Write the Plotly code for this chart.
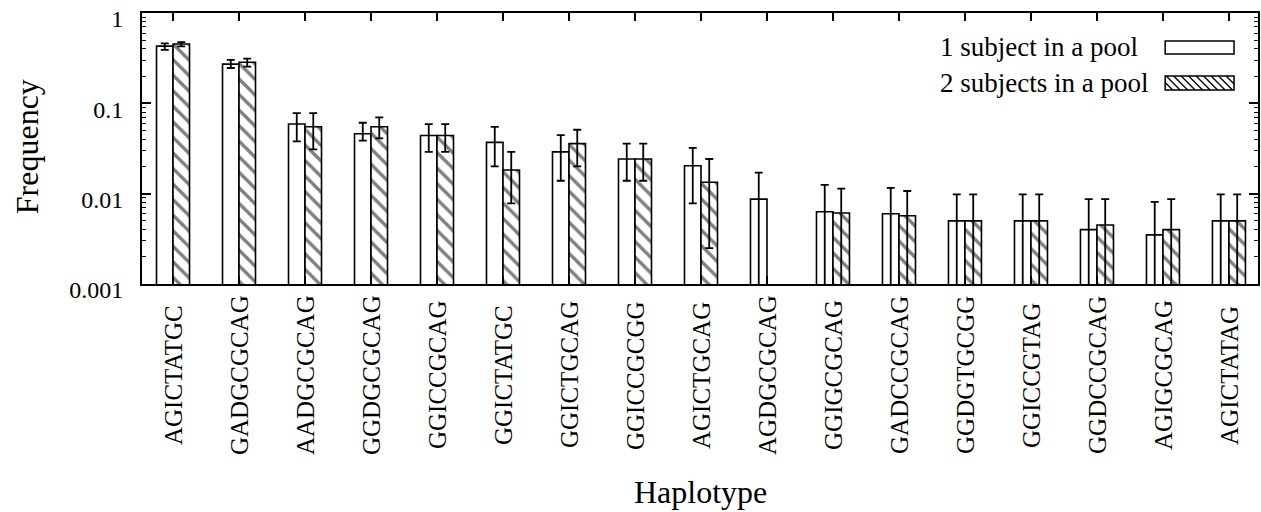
import plotly.graph_objects as go

# ---------------- data ----------------
haplotypes = ["AGICTATGC", "GADGCGCAG", "AADGCGCAG", "GGDGCGCAG", "GGICCGCAG",
              "GGICTATGC", "GGICTGCAG", "GGICCGCGG", "AGICTGCAG", "AGDGCGCAG",
              "GGIGCGCAG", "GADCCGCAG", "GGDGTGCGG", "GGICCGTAG", "GGDCCGCAG",
              "AGIGCGCAG", "AGICTATAG"]

one_freq  = [0.43, 0.272, 0.059, 0.046, 0.044, 0.037, 0.029, 0.0242, 0.0204, 0.0087,
             0.0063, 0.0060, 0.0050, 0.0050, 0.0040, 0.0035, 0.0050]
one_upper = [0.46, 0.302, 0.078, 0.061, 0.059, 0.055, 0.0445, 0.0358, 0.0322, 0.0171,
             0.0125, 0.0116, 0.0098, 0.0098, 0.0087, 0.0081, 0.0098]
one_lower = [0.39, 0.246, 0.038, 0.0386, 0.029, 0.020, 0.0139, 0.0139, 0.0078, 0.0,
             0.0, 0.0, 0.0, 0.0, 0.0, 0.0, 0.0]

two_freq  = [0.454, 0.285, 0.055, 0.055, 0.044, 0.0183, 0.0358, 0.0242, 0.0134, None,
             0.0061, 0.0057, 0.0050, 0.0050, 0.0045, 0.0040, 0.0050]
two_upper = [0.477, 0.312, 0.078, 0.070, 0.059, 0.029, 0.051, 0.0358, 0.0242, None,
             0.0114, 0.0107, 0.0098, 0.0098, 0.0087, 0.0087, 0.0098]
two_lower = [0.428, 0.255, 0.031, 0.041, 0.029, 0.0078, 0.020, 0.0139, 0.0025, None,
             0.0, 0.0, 0.0, 0.0, 0.0, 0.0, 0.0]

series_names = ["1 subject in a pool", "2 subjects in a pool"]
y_tick_vals = [0.001, 0.01, 0.1, 1]
y_tick_text = ["0.001", "0.01", "0.1", "1"]


def err_plus(v, u):
    return [None if a is None else b - a for a, b in zip(v, u)]


def err_minus(v, l):
    return [None if a is None else a - b for a, b in zip(v, l)]


# ---------------- layout geometry ----------------
W, H = 1261, 512
ML, MR, MT, MB = 142, 1, 13, 228
PW, PH = W - ML - MR, H - MT - MB


def px(x):
    return (x - ML) / PW


def py(y):
    return (MT + PH - y) / PH


FONT = "Liberation Serif"

fig = go.Figure()
fig.add_trace(go.Bar(
    x=haplotypes, y=one_freq, name=series_names[0], showlegend=False,
    marker=dict(color="white", line=dict(color="black", width=1.6)),
    error_y=dict(type="data", array=err_plus(one_freq, one_upper),
                 arrayminus=err_minus(one_freq, one_lower),
                 color="black", thickness=1.8, width=4),
))
fig.add_trace(go.Bar(
    x=haplotypes, y=two_freq, name=series_names[1], showlegend=False,
    marker=dict(color="white", line=dict(color="black", width=1.6),
                pattern=dict(shape="\\", fgcolor="black", bgcolor="white",
                             size=11, solidity=0.3)),
    error_y=dict(type="data", array=err_plus(two_freq, two_upper),
                 arrayminus=err_minus(two_freq, two_lower),
                 color="black", thickness=1.8, width=4),
))

minor_vals = [k * 10 ** e for e in (-3, -2, -1) for k in range(2, 10)]

fig.update_layout(
    width=W, height=H,
    margin=dict(l=ML, r=MR, t=MT, b=MB, pad=0),
    paper_bgcolor="white", plot_bgcolor="white",
    barmode="group", bargap=0.5, bargroupgap=0.0,
    font=dict(family=FONT, color="black", size=24),
    xaxis=dict(type="category", range=[-0.47, 16.44], showticklabels=False,
               ticks="inside", ticklen=8, tickwidth=2, tickcolor="black",
               showline=True, linecolor="black", linewidth=2, mirror="ticks",
               showgrid=False, zeroline=False),
    yaxis=dict(type="log", range=[-3.00001, 0.00001],
               tickvals=y_tick_vals, ticktext=y_tick_text,
               ticks="inside", ticklen=9, tickwidth=2, tickcolor="black",
               tickfont=dict(size=24, family=FONT),
               ticklabelshift=6, ticklabelstandoff=12,
               minor=dict(tickvals=minor_vals, ticks="inside", ticklen=4,
                          tickwidth=1.2, tickcolor="black", showgrid=False),
               showline=True, linecolor="black", linewidth=2, mirror="ticks",
               showgrid=False, zeroline=False),
)

annotations = []
# category labels, centred under each group
for h in haplotypes:
    annotations.append(dict(x=h, xref="x", y=py(375), yref="paper", text=h,
                            textangle=-90, showarrow=False, xanchor="center",
                            yanchor="middle", font=dict(size=25, family=FONT)))
# axis titles
annotations.append(dict(x=px(27), xref="paper", y=py(147), yref="paper",
                        text="Frequency", textangle=-90, showarrow=False,
                        xanchor="center", yanchor="middle",
                        font=dict(size=32, family=FONT)))
annotations.append(dict(x=px(701), xref="paper", y=py(492), yref="paper",
                        text="Haplotype", showarrow=False,
                        xanchor="center", yanchor="middle",
                        font=dict(size=32, family=FONT)))
# legend texts
annotations.append(dict(x=px(939), xref="paper", y=py(47), yref="paper",
                        text=series_names[0], showarrow=False,
                        xanchor="left", yanchor="middle",
                        font=dict(size=27, family=FONT)))
annotations.append(dict(x=px(939), xref="paper", y=py(83), yref="paper",
                        text=series_names[1], showarrow=False,
                        xanchor="left", yanchor="middle",
                        font=dict(size=27, family=FONT)))
fig.update_layout(annotations=annotations)

# legend swatches
shapes = []
sx0, sx1 = 1167, 1236
shapes.append(dict(type="rect", xref="paper", yref="paper",
                   x0=px(sx0), x1=px(sx1), y0=py(54), y1=py(41),
                   line=dict(color="black", width=1.5), fillcolor="white"))
hy0, hy1 = 76, 90
shapes.append(dict(type="rect", xref="paper", yref="paper",
                   x0=px(sx0), x1=px(sx1), y0=py(hy1), y1=py(hy0),
                   line=dict(color="black", width=1.5), fillcolor="white"))
hh = hy1 - hy0
path = ""
step = 7.5
xs = sx0 - hh + step
while xs < sx1:
    xa, ya = xs, hy0
    xb, yb = xs + hh, hy1
    if xa < sx0:
        ya = hy0 + (sx0 - xa)
        xa = sx0
    if xb > sx1:
        yb = hy1 - (xb - sx1)
        xb = sx1
    path += f"M{px(xa)},{py(ya)} L{px(xb)},{py(yb)} "
    xs += step
shapes.append(dict(type="path", xref="paper", yref="paper", path=path,
                   line=dict(color="black", width=1.3)))
fig.update_layout(shapes=shapes)

fig.write_html(
    "out.html",
    config={"displayModeBar": False},
    post_script="document.body.style.margin='0';document.body.style.overflow='hidden';",
)
